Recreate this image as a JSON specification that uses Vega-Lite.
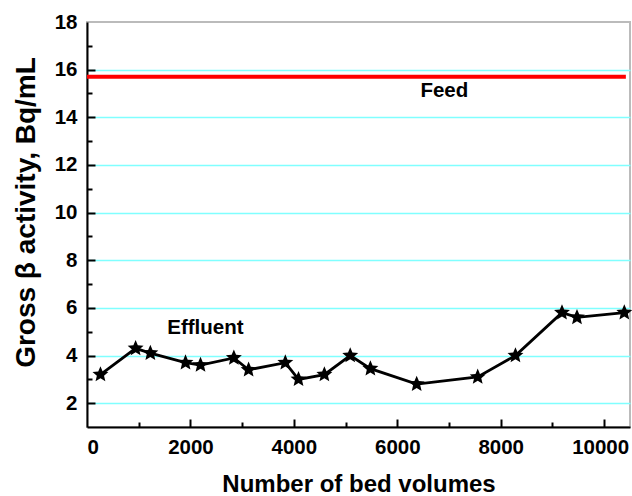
{
  "$schema": "https://vega.github.io/schema/vega-lite/v6.json",
  "width": 543,
  "height": 405,
  "autosize": {"type": "none"},
  "padding": {"left": 87, "top": 22, "right": 2, "bottom": 69},
  "background": "white",
  "config": {
    "view": {"stroke": "#bbbbbb", "strokeWidth": 2},
    "font": "Liberation Sans",
    "axis": {
      "labelFont": "Liberation Sans",
      "titleFont": "Liberation Sans",
      "labelFontWeight": "bold",
      "titleFontWeight": "bold",
      "labelFontSize": 20.5,
      "titleFontSize": 24,
      "labelColor": "black",
      "titleColor": "black",
      "domainColor": "black",
      "domainWidth": 2,
      "tickColor": "black",
      "tickWidth": 2
    }
  },
  "datasets": {
    "effluent": [
      {"bv": 260, "activity": 3.2},
      {"bv": 940, "activity": 4.3},
      {"bv": 1225, "activity": 4.1},
      {"bv": 1905, "activity": 3.7},
      {"bv": 2195, "activity": 3.6},
      {"bv": 2840, "activity": 3.9},
      {"bv": 3125, "activity": 3.4},
      {"bv": 3835, "activity": 3.7},
      {"bv": 4090, "activity": 3.0},
      {"bv": 4590, "activity": 3.2},
      {"bv": 5090, "activity": 4.0},
      {"bv": 5480, "activity": 3.45},
      {"bv": 6375, "activity": 2.8},
      {"bv": 7555, "activity": 3.1},
      {"bv": 8285, "activity": 4.0},
      {"bv": 9185, "activity": 5.8},
      {"bv": 9475, "activity": 5.6},
      {"bv": 10390, "activity": 5.8}
    ],
    "feed": [{"start": 0, "end": 10420, "activity": 15.7}],
    "labels": [
      {"bv": 6910, "activity": 15.12, "text": "Feed"},
      {"bv": 2290, "activity": 5.17, "text": "Effluent"}
    ]
  },
  "resolve": {"axis": {"x": "independent", "y": "independent"}},
  "layer": [
    {
      "data": {"name": "feed"},
      "mark": {"type": "rule", "color": "#ff0000", "strokeWidth": 4},
      "encoding": {
        "x": {"field": "start", "type": "quantitative", "scale": {"domain": [0, 10500], "nice": false},
          "axis": {"orient": "bottom", "values": [0, 2000, 4000, 6000, 8000, 10000], "ticks": false, "labelPadding": 10,
            "labelOffset": {"condition": {"test": "datum.value == 10000", "value": -4}, "value": 0},
            "title": "Number of bed volumes", "titlePadding": 15, "grid": false, "format": "d"}},
        "x2": {"field": "end"},
        "y": {"field": "activity", "type": "quantitative", "scale": {"domain": [1, 18], "nice": false, "zero": false},
          "axis": {"orient": "left", "values": [2, 4, 6, 8, 10, 12, 14, 16, 18], "ticks": false, "labelPadding": 10, "title": "Gross β activity, Bq/mL", "titleFontSize": 28, "titlePadding": 14, "titleY": 190, "grid": false}}
      }
    },
    {
      "data": {"name": "effluent"},
      "mark": {"type": "line", "color": "black", "strokeWidth": 2.8,
        "point": {"filled": true, "color": "black", "size": 280,
          "shape": "M0,-1L0.264,-0.363L0.951,-0.309L0.428,0.139L0.588,0.809L0,0.45L-0.588,0.809L-0.428,0.139L-0.951,-0.309L-0.264,-0.363Z"}},
      "encoding": {
        "x": {"field": "bv", "type": "quantitative",
          "axis": {"orient": "bottom", "values": [2000, 4000, 6000, 8000, 10000], "tickSize": -8, "labels": false, "title": null, "grid": false, "domain": false}},
        "y": {"field": "activity", "type": "quantitative",
          "axis": {"orient": "left", "values": [2, 4, 6, 8, 10, 12, 14, 16], "tickSize": -8, "labels": false, "title": null, "domain": false,
            "grid": true, "gridColor": "#80ffff", "gridWidth": 1.5, "gridOpacity": 1}}
      }
    },
    {
      "data": {"name": "labels"},
      "mark": {"type": "text", "font": "Liberation Sans", "fontWeight": "bold", "fontSize": 20.5, "color": "black"},
      "encoding": {
        "x": {"field": "bv", "type": "quantitative",
          "axis": {"orient": "bottom", "values": [1000, 3000, 5000, 7000, 9000], "tickSize": -5, "labels": false, "title": null, "grid": false, "domain": false}},
        "y": {"field": "activity", "type": "quantitative",
          "axis": {"orient": "left", "values": [3, 5, 7, 9, 11, 13, 15, 17], "tickSize": -5, "labels": false, "title": null, "grid": false, "domain": false}},
        "text": {"field": "text"}
      }
    }
  ]
}
